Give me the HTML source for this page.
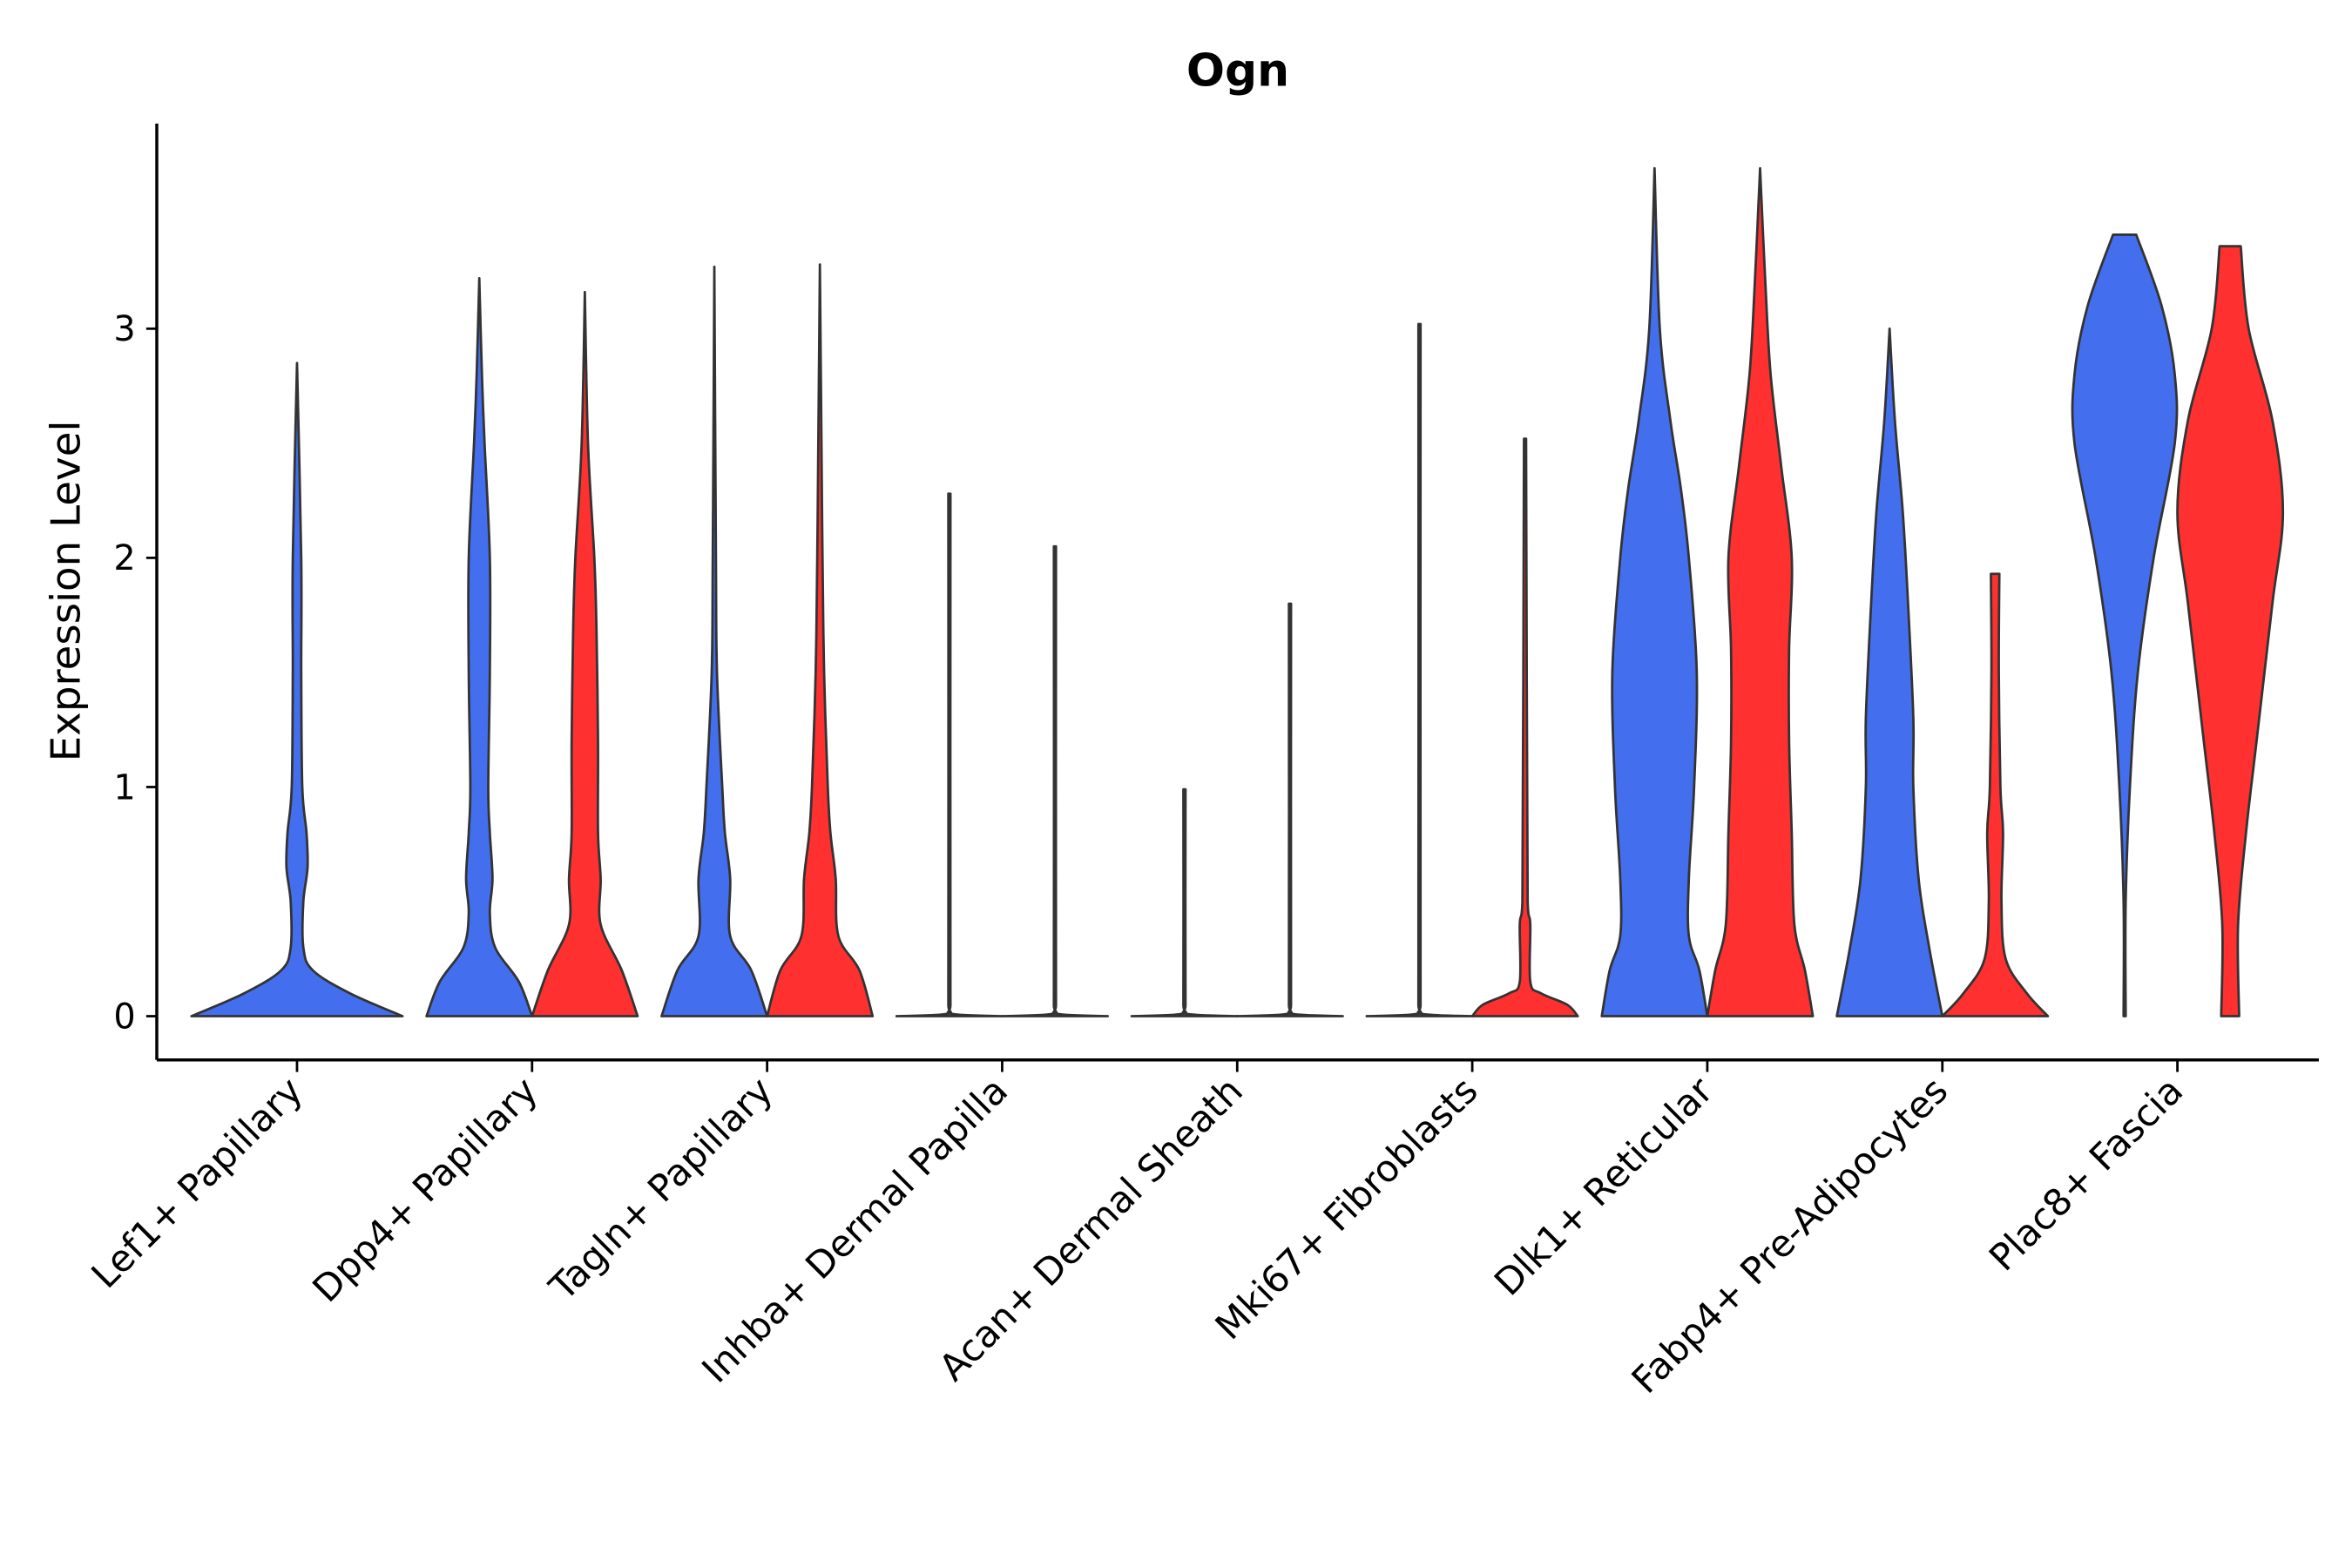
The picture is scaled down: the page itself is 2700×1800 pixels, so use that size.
<!DOCTYPE html>
<html><head><meta charset="utf-8"><style>html,body{margin:0;padding:0;background:#fff}svg{display:block}</style></head>
<body>
<svg id="chart" width="2700" height="1800" viewBox="0 0 1560 1040" xmlns="http://www.w3.org/2000/svg" font-family="'DejaVu Sans','Liberation Sans',sans-serif">
<rect width="1560" height="1040" fill="#fff"/>
<text x="821" y="57" text-anchor="middle" font-size="30" font-weight="bold">Ogn</text>
<text transform="translate(53,392) rotate(-90)" text-anchor="middle" font-size="27">Expression Level</text>
<g id="plot"></g>
</svg>
<script>
const categories = ["Lef1+ Papillary","Dpp4+ Papillary","Tagln+ Papillary","Inhba+ Dermal Papilla","Acan+ Dermal Sheath","Mki67+ Fibroblasts","Dlk1+ Reticular","Fabp4+ Pre-Adipocytes","Plac8+ Fascia"];
const yTicks = [0,1,2,3];
// each violin: [value, relative half-width]
const blueProfiles = [
 [[0,1],[0.1,0.5],[0.2,0.15],[0.3,0.06],[0.5,0.06],[0.65,0.1],[0.8,0.09],[1.0,0.05],[1.5,0.04],[2.0,0.04],[2.85,0]],
 [[0,1],[0.15,0.75],[0.3,0.3],[0.45,0.2],[0.6,0.25],[0.8,0.2],[1.0,0.17],[1.5,0.2],[2.0,0.2],[2.5,0.1],[2.8,0.05],[3.22,0]],
 [[0,1],[0.2,0.7],[0.35,0.3],[0.6,0.3],[0.8,0.2],[1.0,0.15],[1.5,0.05],[2.0,0.03],[3.27,0]],
 [[0,1],[0.01,0.05],[0.05,0.02],[2.28,0.02]],
 [[0,1],[0.01,0.05],[0.05,0.02],[0.99,0.02]],
 [[0,1],[0.01,0.05],[0.05,0.02],[3.02,0.02]],
 [[0,1],[0.2,0.85],[0.35,0.65],[0.6,0.65],[1.0,0.75],[1.5,0.8],[2.0,0.65],[2.3,0.5],[2.6,0.3],[3.0,0.1],[3.7,0]],
 [[0,1],[0.3,0.75],[0.6,0.55],[1.0,0.45],[1.3,0.45],[1.8,0.35],[2.2,0.25],[2.6,0.1],[3.0,0]],
 [[0,0.02],[0.5,0.02],[1.0,0.1],[1.5,0.25],[2.0,0.55],[2.5,0.95],[2.8,0.95],[3.1,0.7],[3.41,0.22]]
];
const redProfiles = [
 null,
 [[0,1],[0.2,0.7],[0.4,0.3],[0.6,0.3],[0.8,0.25],[1.2,0.25],[1.7,0.22],[2.0,0.18],[2.5,0.06],[3.16,0]],
 [[0,1],[0.2,0.75],[0.35,0.35],[0.6,0.3],[0.8,0.2],[1.0,0.15],[1.5,0.08],[2.0,0.05],[2.5,0.03],[3.28,0]],
 [[0,1],[0.01,0.05],[0.05,0.02],[2.05,0.02]],
 [[0,1],[0.01,0.05],[0.05,0.02],[1.8,0.02]],
 [[0,1],[0.05,0.8],[0.1,0.3],[0.15,0.1],[0.4,0.1],[0.5,0.05],[2.52,0.02]],
 [[0,1],[0.2,0.85],[0.4,0.65],[0.8,0.6],[1.2,0.55],[1.6,0.55],[2.0,0.6],[2.4,0.4],[2.8,0.2],[3.2,0.1],[3.7,0]],
 [[0,1],[0.1,0.6],[0.25,0.2],[0.5,0.12],[0.8,0.15],[1.0,0.1],[1.5,0.07],[1.93,0.08]],
 [[0,0.17],[0.4,0.15],[0.8,0.3],[1.2,0.5],[1.8,0.8],[2.2,1.0],[2.6,0.8],[3.0,0.35],[3.36,0.2]]
];
const NS="http://www.w3.org/2000/svg";
const g=document.getElementById('plot');
const X0=104,X1=1538,Y0=82,Y1=703;
const yScale=v=>674-152*v;
const xScale=i=>197+i*155.9;
function mk(t,a){const e=document.createElementNS(NS,t);for(const k in a)e.setAttribute(k,a[k]);g.appendChild(e);return e;}
const clamp=(v,a,b)=>Math.max(Math.min(a,b),Math.min(Math.max(a,b),v));
function smooth(pts){
  let d="";
  for(let i=0;i<pts.length-1;i++){
    const p0=pts[Math.max(0,i-1)],p1=pts[i],p2=pts[i+1],p3=pts[Math.min(pts.length-1,i+2)];
    const c1=[p1[0]+(p2[0]-p0[0])/6,clamp(p1[1]+(p2[1]-p0[1])/6,p1[1],p2[1])];
    const c2=[p2[0]-(p3[0]-p1[0])/6,clamp(p2[1]-(p3[1]-p1[1])/6,p1[1],p2[1])];
    d+=`C${c1[0].toFixed(2)},${c1[1].toFixed(2)} ${c2[0].toFixed(2)},${c2[1].toFixed(2)} ${p2[0].toFixed(2)},${p2[1].toFixed(2)}`;
  }
  return d;
}
function violin(prof,cx,hw,color,name){
  const right=prof.map(p=>[cx+p[1]*hw,yScale(p[0])]);
  const left=prof.slice().reverse().map(p=>[cx-p[1]*hw,yScale(p[0])]);
  let d=`M${right[0][0].toFixed(2)},${right[0][1].toFixed(2)}`+smooth(right)+`L${left[0][0].toFixed(2)},${left[0][1].toFixed(2)}`+smooth(left)+"Z";
  const e=mk('path',{d:d,fill:color,stroke:'#333',"stroke-width":1.6,"stroke-linejoin":"round"});
  
  
}
categories.forEach((c,i)=>{
  const cx=xScale(i);
  if(redProfiles[i]){
    violin(blueProfiles[i],cx-35,35,'#436EEE','violin-blue-'+i);
    violin(redProfiles[i],cx+35,35,'#FF3030','violin-red-'+i);
  } else {
    violin(blueProfiles[i],cx,70,'#436EEE','violin-blue-'+i);
  }
  const t=mk('line',{x1:cx,x2:cx,y1:Y1,y2:Y1+8,stroke:'#000',"stroke-width":1.6});
  
  
  const lb=mk('text',{transform:`translate(${cx+5},${Y1+22}) rotate(-45)`,"text-anchor":"end","font-size":24.5,fill:'#000'});
  lb.textContent=c;
  
  
});
yTicks.forEach(v=>{
  const y=yScale(v);
  const t=mk('line',{x1:X0-7,x2:X0,y1:y,y2:y,stroke:'#000',"stroke-width":1.6});
  
  
  const lb=mk('text',{x:X0-14,y:y+8,"text-anchor":"end","font-size":23});
  lb.textContent=v;
  
  
});
const xa=mk('line',{x1:X0,x2:X1,y1:Y1,y2:Y1,stroke:'#000',"stroke-width":2});


const ya=mk('line',{x1:X0,x2:X0,y1:Y0,y2:Y1,stroke:'#000',"stroke-width":2});


</script>
</body></html>
